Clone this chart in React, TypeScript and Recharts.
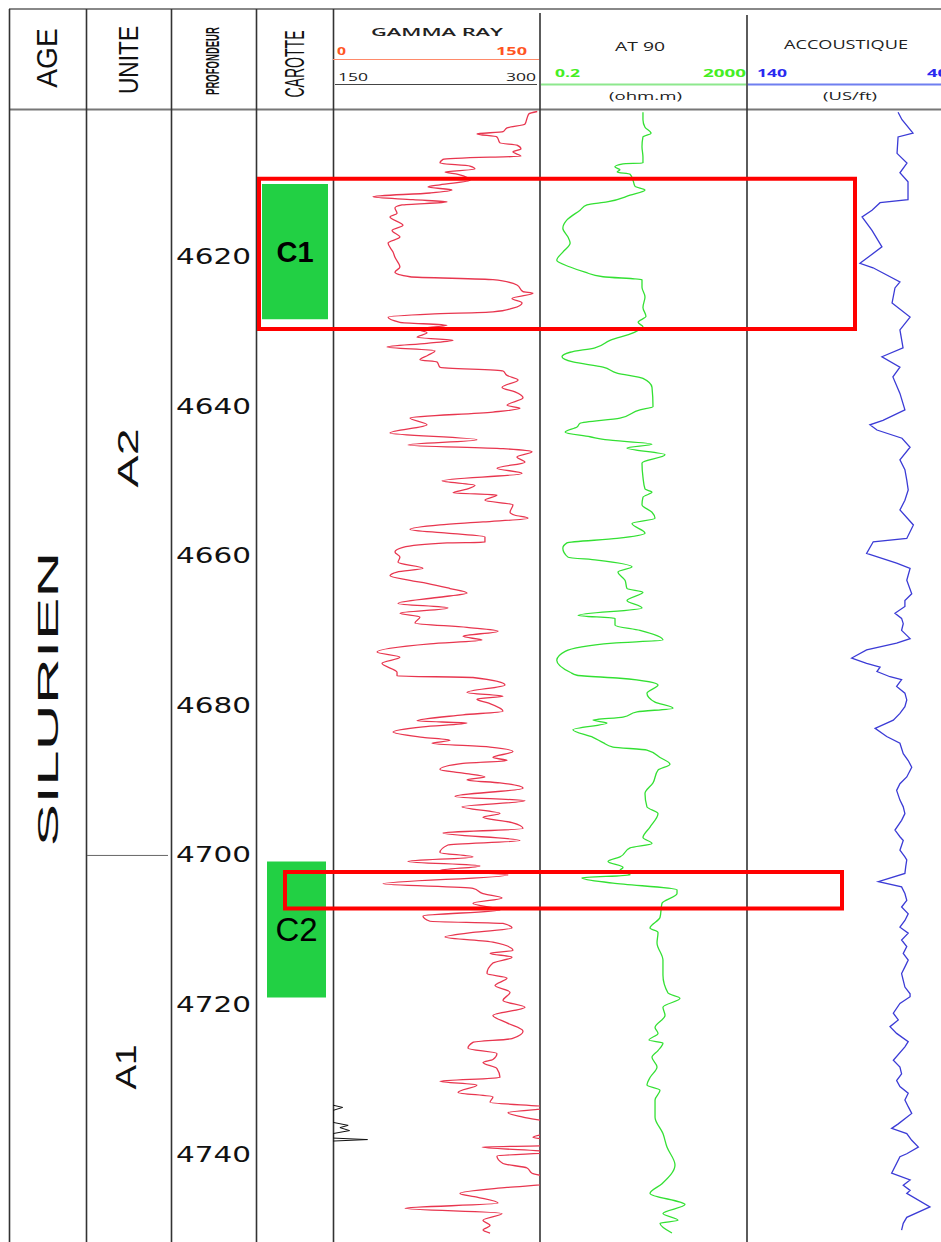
import React from 'react';
import { LineChart, Line, XAxis, YAxis, ReferenceArea, ReferenceLine } from 'recharts';

// axe des profondeurs (m)
const DEPTH_DOMAIN: [number, number] = [4600.3, 4751.7];
const DEPTH_TICKS = [4620, 4640, 4660, 4680, 4700, 4720, 4740];

// Gamma ray, echelle 0 - 150
const grDepth = [
  4600.5, 4600.8, 4601.4, 4602.2, 4602.7, 4603.2, 4603.5, 4603.9, 4604.7, 4605.0, 4605.5, 4605.9, 4606.5, 4606.6,
  4606.9, 4607.4, 4607.8, 4608.2, 4608.6, 4608.9, 4609.7, 4610.3, 4610.6, 4611.0, 4611.4, 4611.9, 4612.3, 4612.6,
  4613.0, 4613.4, 4614.1, 4614.6, 4615.7, 4616.4, 4617.3, 4618.1, 4619.3, 4620.0, 4621.3, 4622.0, 4622.6, 4623.0,
  4623.7, 4624.6, 4624.8, 4625.5, 4626.1, 4626.8, 4627.3, 4627.6, 4628.0, 4628.7, 4629.1, 4629.6, 4630.1, 4630.7,
  4631.1, 4631.5, 4632.0, 4632.5, 4633.1, 4633.7, 4634.0, 4634.7, 4635.2, 4635.8, 4636.4, 4637.4, 4638.0, 4638.8,
  4639.8, 4640.2, 4640.7, 4641.5, 4642.4, 4643.5, 4644.4, 4645.1, 4645.6, 4646.0, 4646.7, 4647.4, 4648.2, 4648.9,
  4649.9, 4650.5, 4651.0, 4651.5, 4651.8, 4652.5, 4653.1, 4654.1, 4654.5, 4654.9, 4655.4, 4655.8, 4656.4, 4656.9,
  4657.4, 4658.1, 4658.2, 4658.8, 4659.4, 4660.1, 4660.8, 4661.6, 4662.1, 4662.6, 4663.2, 4663.6, 4664.3, 4664.9,
  4665.5, 4666.3, 4666.9, 4667.6, 4668.1, 4668.9, 4669.5, 4670.0, 4670.7, 4671.2, 4671.7, 4672.8, 4673.5, 4674.3,
  4675.5, 4676.0, 4676.2, 4677.2, 4678.2, 4678.7, 4679.1, 4679.6, 4680.7, 4681.2, 4682.0, 4682.3, 4682.8, 4683.5,
  4684.2, 4684.6, 4685.0, 4685.5, 4686.1, 4686.9, 4687.3, 4687.7, 4688.5, 4689.0, 4689.5, 4689.9, 4690.3, 4691.0,
  4692.1, 4692.7, 4693.5, 4694.4, 4694.9, 4695.6, 4696.4, 4697.0, 4698.0, 4698.6, 4699.6, 4700.2, 4700.8, 4701.4,
  4702.0, 4702.6, 4703.8, 4704.4, 4705.1, 4705.7, 4706.4, 4707.3, 4708.1, 4708.8, 4709.1, 4709.7, 4710.3, 4710.9,
  4711.6, 4712.7, 4713.1, 4713.6, 4714.4, 4715.8, 4716.4, 4717.4, 4718.3, 4719.4, 4720.3, 4721.4, 4722.4, 4723.5,
  4724.5, 4725.0, 4725.8, 4726.5, 4727.3, 4727.7, 4728.5, 4729.7, 4730.2, 4730.7, 4731.7, 4732.3, 4733.0, 4733.7,
  4734.4, 4735.0, 4735.8, 4736.1, 4736.9, 4737.3, 4737.7, 4738.1, 4738.8, 4739.0, 4739.7, 4740.2, 4741.2, 4741.8,
  4742.5, 4743.2, 4743.9, 4744.4, 4745.2, 4745.7, 4746.5, 4747.2, 4747.9, 4748.8, 4749.5, 4750.1, 4750.5,
];
const grValue = [
  148, 142, 140.6, 139.1, 126.1, 123.2, 104.3, 118.8, 121.0, 133.3, 136.2, 130.4, 136.2, 113.8,
  79.7, 77.5, 99.3, 102.9, 81.2, 90.6, 99.3, 77.5, 68.8, 86.2, 70.3, 29.0, 58.0, 82.6,
  50.0, 44.9, 46.4, 41.3, 50.7, 42.8, 48.5, 39.9, 43.5, 44.9, 48.5, 44.9, 55.8, 115.9,
  133.3, 137.7, 144.9, 129.7, 137.0, 130.4, 115.9, 70.3, 39.9, 48.5, 82.6, 60.9, 68.1, 60.9,
  87.0, 68.1, 39.1, 73.9, 68.8, 63.0, 75.4, 77.5, 123.2, 126.1, 134.1, 122.5, 131.9, 137.7,
  126.1, 135.5, 115.9, 55.8, 68.1, 41.3, 104.3, 54.3, 123.2, 144.2, 133.3, 139.1, 118.8, 137.0,
  79.0, 102.9, 97.1, 87.0, 118.8, 110.1, 130.4, 128.3, 131.9, 141.3, 108.7, 77.5, 55.8, 82.6,
  110.1, 110.1, 82.6, 50.7, 44.9, 48.5, 47.1, 65.2, 46.4, 41.3, 55.8, 68.1, 84.8, 97.1,
  75.4, 47.1, 83.3, 48.5, 63.0, 59.4, 97.1, 119.6, 94.2, 108.0, 70.3, 31.9, 48.5, 35.5,
  46.4, 46.4, 101.4, 124.6, 97.1, 123.2, 104.3, 112.3, 123.2, 94.2, 60.9, 97.1, 65.2, 43.5,
  65.2, 84.8, 71.7, 113.8, 130.4, 115.9, 126.1, 94.2, 77.5, 94.2, 110.1, 97.1, 121.0, 137.7,
  88.4, 139.1, 93.5, 121.0, 108.7, 129.7, 137.7, 79.7, 135.5, 83.3, 77.5, 101.4, 54.3, 106.5,
  77.5, 126.8, 36.2, 101.4, 108.7, 122.5, 101.4, 121.0, 65.2, 70.3, 123.2, 129.7, 101.4, 81.2,
  115.9, 130.4, 113.8, 129.7, 115.9, 111.6, 126.1, 117.4, 128.3, 123.2, 139.1, 115.9, 126.1, 137.7,
  129.7, 101.4, 97.8, 118.8, 115.9, 108.7, 118.8, 121.0, 77.5, 104.3, 90.6, 115.9, 113.8, 158,
  126.8, 137.7, 160, 161, 162, 152, 144.9, 158, 156, 108.0, 160, 118.8, 123.2, 140.6,
  144.2, 158, 157, 126.1, 92.0, 104.3, 119.6, 52.2, 122.5, 108.7, 113.8, 108.7, 113.8,
];

// partie du GR qui depasse 150, sur l'echelle 150 - 300
const grWrapDepth = [4733.4, 4733.7, 4734.1, 4735.7, 4736.1, 4736.4, 4736.8, 4737.2, 4737.8, 4738.0, 4738.2];
const grWrapValue = [150, 157, 150, 150, 161, 155, 162, 150, 150, 175, 150];

// AT90 (ohm.m), echelle log 0.2 - 2000
const atDepth = [
  4600.6, 4601.6, 4602.6, 4603.4, 4603.9, 4605.2, 4606.6, 4607.4, 4607.5, 4607.9, 4608.3, 4608.6, 4608.9, 4609.7,
  4610.5, 4611.0, 4611.7, 4612.6, 4613.0, 4613.7, 4615.0, 4616.1, 4617.3, 4618.1, 4619.3, 4620.4, 4621.3, 4622.0,
  4622.6, 4623.0, 4624.0, 4625.3, 4626.7, 4627.9, 4628.7, 4629.3, 4630.1, 4631.1, 4632.1, 4632.7, 4633.3, 4634.0,
  4634.7, 4635.5, 4636.2, 4637.4, 4640.0, 4640.4, 4641.5, 4642.2, 4642.7, 4643.4, 4644.0, 4644.4, 4645.0, 4645.5,
  4646.4, 4647.5, 4649.4, 4651.0, 4651.4, 4652.1, 4653.1, 4654.1, 4654.9, 4655.6, 4656.9, 4657.6, 4658.2, 4658.9,
  4660.1, 4660.5, 4661.4, 4662.1, 4663.2, 4664.3, 4664.8, 4665.9, 4666.9, 4667.9, 4668.3, 4669.2, 4669.9, 4671.2,
  4671.6, 4672.7, 4673.9, 4675.5, 4675.9, 4676.3, 4677.2, 4678.3, 4679.5, 4680.3, 4680.8, 4681.5, 4681.9, 4682.3,
  4683.2, 4684.2, 4684.9, 4685.5, 4685.9, 4686.9, 4687.8, 4688.6, 4690.3, 4691.7, 4693.5, 4694.4, 4696.2, 4697.6,
  4698.4, 4699.0, 4700.2, 4700.8, 4701.6, 4702.0, 4702.6, 4703.0, 4703.7, 4704.6, 4705.1, 4706.4, 4708.3, 4709.7,
  4710.3, 4711.7, 4714.0, 4716.0, 4718.4, 4719.1, 4720.3, 4721.4, 4723.0, 4723.8, 4724.7, 4725.1, 4726.1, 4727.0,
  4728.3, 4729.7, 4730.7, 4731.4, 4732.7, 4735.0, 4737.2, 4739.0, 4741.4, 4743.9, 4745.2, 4746.7, 4747.9, 4748.8,
  4749.2, 4750.5,
];
const atValue = [
  19.1, 19.1, 20.9, 27.3, 19.1, 18.3, 19.1, 19.1, 7.9, 5.5, 6.9, 6.1, 10.8, 12.3,
  13.4, 20.9, 10.8, 3.9, 1.6, 1.18, 0.66, 0.55, 0.69, 0.76, 0.55, 0.42, 0.76, 1.47,
  3.26, 18.3, 18.3, 20.9, 19.1, 21.8, 15.4, 19.1, 12.3, 4.44, 2.28, 0.76, 0.53, 0.86,
  3.26, 6.05, 19.1, 28.5, 29.8, 16.75, 6.9, 1.18, 1.03, 0.61, 1.83, 3.56, 28.5, 9.4,
  50.7, 18.3, 19.1, 20.9, 28.5, 19.1, 18.3, 28.5, 32.6, 11.75, 20.9, 6.05, 0.66, 0.55,
  0.69, 2.5, 11.75, 6.32, 8.63, 9.42, 19.1, 9.42, 18.3, 1.08, 5.54, 5.54, 16.75, 46.3,
  5.07, 0.61, 0.42, 0.76, 1.03, 6.9, 37.2, 22.8, 32.6, 72.3, 14.7, 7.9, 2.09, 3.88,
  0.86, 2.09, 3.26, 5.07, 22.8, 40.6, 63.2, 37.2, 29.8, 20.9, 22.8, 37.2, 26.1, 19.1,
  28.5, 10.8, 6.9, 4.06, 7.9, 6.9, 10.8, 1.28, 5.07, 86.3, 86.3, 44.4, 40.6, 26.1,
  37.2, 35.6, 46.3, 46.3, 57.9, 98.4, 46.3, 50.7, 32.6, 37.2, 24.9, 46.3, 37.2, 28.5,
  35.6, 26.1, 22.8, 40.6, 32.6, 32.6, 46.3, 55.3, 78.9, 44.4, 26.1, 122.8, 46.3, 90.2,
  40.6, 69.0,
];

// Accoustique (us/ft), echelle 140 - 40
const acDepth = [
  4600.6, 4601.6, 4603.4, 4603.9, 4606.1, 4607.4, 4608.7, 4609.9, 4612.3, 4612.7, 4613.7, 4614.6, 4616.4, 4618.6,
  4620.0, 4620.8, 4621.4, 4622.1, 4623.3, 4624.1, 4626.1, 4628.0, 4629.7, 4632.1, 4633.3, 4634.7, 4636.0, 4638.2,
  4640.4, 4641.8, 4642.4, 4643.1, 4644.2, 4645.4, 4647.1, 4648.4,
  4649.8, 4651.1, 4652.5, 4653.8, 4655.8, 4657.6, 4658.05, 4659.6, 4660.9, 4661.6, 4663.2, 4665.0, 4665.9, 4666.7,
  4667.6, 4668.3, 4669.0, 4669.9, 4671.0, 4671.6, 4672.5, 4673.6, 4674.3, 4674.8, 4675.4, 4676.1, 4676.5, 4677.4,
  4678.3, 4679.2, 4680.1, 4681.0, 4681.9, 4683.0, 4684.1, 4685.0, 4686.4, 4687.3, 4688.2, 4689.5, 4690.4, 4691.3,
  4692.6, 4693.5, 4694.4, 4695.3, 4696.6, 4697.5, 4698.0, 4699.3, 4700.2,
  4700.6, 4701.5, 4702.4, 4703.5, 4704.2, 4705.1, 4706.0, 4706.9, 4707.8, 4708.7, 4709.6, 4710.4, 4711.3, 4712.2,
  4713.1, 4714.0, 4714.9, 4715.8, 4716.7, 4717.6, 4718.5, 4718.9, 4719.8, 4721.1, 4722.0, 4722.9, 4723.8, 4724.9,
  4725.6, 4727.4, 4728.3, 4729.2, 4730.1, 4730.9, 4731.8, 4732.7, 4733.6, 4734.5, 4735.9, 4736.5, 4737.2, 4738.1,
  4739.0, 4739.9, 4740.3, 4742.5, 4743.4, 4744.1, 4744.8, 4745.2, 4747.0, 4748.4, 4749.2, 4750.1,
];
const acValue = [
  67.5, 65.6, 60.3, 67.5, 68.0, 63.2, 66.6, 62.7, 62.7, 76.2, 80.1, 84.9, 80.1, 75.3,
  82.0, 85.9, 79.6, 74.8, 66.6, 69.0, 70.4, 61.7, 66.6, 65.1, 75.3, 66.6, 70.0, 66.6,
  64.2, 74.8, 81.1, 77.7, 65.6, 61.7, 66.6, 64.2,
  63.3, 62.6, 64.2, 66.6, 60.1, 63.3, 79.5, 82.7, 68.2, 61.7, 63.3, 60.9, 64.2, 64.2,
  69.0, 65.8, 65.0, 65.8, 61.7, 68.2, 82.7, 89.9, 82.7, 76.2, 77.7, 71.4, 65.8, 68.2,
  64.2, 63.3, 64.2, 66.6, 69.8, 78.6, 73.0, 66.6, 65.0, 62.6, 60.9, 63.3, 66.6, 68.2,
  66.6, 65.0, 64.2, 65.8, 69.0, 66.6, 65.0, 66.6, 64.2,
  63.3, 63.8, 64.2, 77.0, 65.8, 64.2, 63.3, 65.8, 62.6, 64.2, 66.6, 62.6, 65.8, 63.3,
  65.0, 62.6, 64.2, 65.8, 65.0, 64.2, 61.7, 61.7, 66.6, 69.8, 67.4, 71.4, 68.2, 62.6,
  64.2, 69.8, 66.6, 65.8, 68.2, 66.6, 62.6, 64.2, 62.6, 60.9, 67.4, 70.6, 63.3, 60.9,
  57.7, 63.3, 66.6, 70.6, 61.7, 65.0, 61.7, 63.3, 52.1, 63.3, 65.0, 65.8,
];

// carottes
const coreNames = ['C1', 'C2'];
const coreTop = [4610.2, 4700.8];
const coreBase = [4628.3, 4719.0];

// limite entre les unites A2 / A1
const unitBoundary = 4700;

// intervalles encadres en rouge
const zoneTop = [4609.5, 4702.2];
const zoneBase = [4629.6, 4707.1];

type Row = { depth: number; value?: number };
const toRows = (depth: number[], values: number[]): Row[] => depth.map((d, i) => ({ depth: d, value: values[i] }));

const grRows = toRows(grDepth, grValue);
const grWrapRows = toRows(grWrapDepth, grWrapValue);
const atRows = toRows(atDepth, atValue);
const acRows = toRows(acDepth, acValue);
const frameRows = DEPTH_DOMAIN.map((d) => ({ depth: d, x: 0.5 }));

const PLOT_TOP = 110;
const PLOT_H = 1132;
const NO_MARGIN = { top: 0, right: 0, bottom: 0, left: 0 };
const FONT = "'Liberation Sans', Arial, sans-serif";

type TrackProps = {
  left: number;
  width: number;
  rows: Row[];
  color: string;
  domain: [number, number];
  log?: boolean;
  reversed?: boolean;
  smooth?: boolean;
  children?: React.ReactNode;
};

const Track = ({ left, width, rows, color, domain, log, reversed, smooth, children }: TrackProps) => (
  <div style={{ position: 'absolute', left, top: PLOT_TOP }}>
    <LineChart layout="vertical" width={width} height={PLOT_H} data={rows} margin={NO_MARGIN}>
      <XAxis type="number" hide domain={domain} scale={log ? 'log' : 'auto'} reversed={reversed} allowDataOverflow />
      <YAxis type="number" dataKey="depth" hide domain={DEPTH_DOMAIN} allowDataOverflow />
      <Line
        type={smooth ? 'monotone' : 'linear'}
        dataKey="value"
        stroke={color}
        strokeWidth={1.3}
        dot={false}
        isAnimationActive={false}
      />
      {children}
    </LineChart>
  </div>
);

// graphique vide qui partage l'axe des profondeurs (zones, limites)
const DepthFrame = ({ left, width, pad = 0, children }: any) => (
  <div style={{ position: 'absolute', left, top: PLOT_TOP }}>
    <LineChart
      layout="vertical"
      width={width}
      height={PLOT_H}
      data={frameRows}
      margin={{ top: 0, bottom: 0, left: pad, right: pad }}
    >
      <XAxis type="number" dataKey="x" hide domain={[0, 1]} allowDataOverflow />
      <YAxis type="number" dataKey="depth" hide domain={DEPTH_DOMAIN} allowDataOverflow />
      <Line dataKey="x" stroke="none" dot={false} isAnimationActive={false} />
      {children}
    </LineChart>
  </div>
);

const DepthTick = (props: any) => {
  const { x, y, payload } = props;
  return (
    <text
      x={x - 10}
      y={y}
      dy={7}
      textAnchor="end"
      fontSize={21}
      fontFamily="'DejaVu Sans', sans-serif"
      textLength={75}
      lengthAdjust="spacingAndGlyphs"
      fill="#111"
    >
      {payload.value}
    </text>
  );
};

// texte vertical, sx = compression horizontale du texte
const VText = ({ x, y, size, sx = 1, len, weight, children }: any) => (
  <text
    transform={`translate(${x},${y}) rotate(-90) scale(${sx},1)`}
    textAnchor="middle"
    dy="0.36em"
    fontSize={size}
    fontWeight={weight || 400}
    textLength={len}
    lengthAdjust={len ? 'spacingAndGlyphs' : undefined}
    fill="#111"
  >
    {children}
  </text>
);

const HText = ({ x, y, size, len, anchor, weight, fill, children }: any) => (
  <text
    x={x}
    y={y}
    textAnchor={anchor || 'middle'}
    fontSize={size}
    fontWeight={weight || 400}
    textLength={len}
    lengthAdjust="spacingAndGlyphs"
    fill={fill || '#222'}
    fontFamily="'Open Sans', sans-serif"
  >
    {children}
  </text>
);

const coreBoxes = [
  { left: 262, width: 66, fontSize: 29, fontWeight: 700 },
  { left: 267, width: 59, fontSize: 33, fontWeight: 400 },
];

const zoneBoxes = [
  { left: 257, width: 600 },
  { left: 283, width: 561 },
];

const App: React.FC = () => {
  return (
    <div
      style={{
        position: 'absolute',
        left: 0,
        top: 0,
        width: 941,
        height: 1242,
        overflow: 'hidden',
        background: '#fff',
        fontFamily: FONT,
      }}
    >
      <svg width={941} height={1242} style={{ position: 'absolute', left: 0, top: 0 }} fontFamily={FONT}>
        {/* cadre */}
        <line x1={9} y1={9} x2={941} y2={9} stroke="#888" strokeWidth={2} />
        <line x1={9} y1={109.5} x2={941} y2={109.5} stroke="#777" strokeWidth={2} />
        {[9.5, 86.5, 171.5, 256.5, 333.5].map((x) => (
          <line key={x} x1={x} y1={9} x2={x} y2={1242} stroke="#333" strokeWidth={1.6} />
        ))}
        <line x1={540} y1={13} x2={540} y2={1242} stroke="#333" strokeWidth={1.6} />
        <line x1={747} y1={15} x2={747} y2={1242} stroke="#333" strokeWidth={1.6} />

        {/* entetes de colonnes */}
        <VText x={47} y={58} size={29} sx={0.97}>AGE</VText>
        <VText x={128} y={60} size={28} sx={0.81}>UNITE</VText>
        <VText x={213} y={61} size={18} sx={0.53} weight={700}>PROFONDEUR</VText>
        <VText x={294} y={64} size={27} sx={0.52}>CAROTTE</VText>

        {/* entete gamma ray */}
        <HText x={437} y={36} size={11} len={132} weight={600}>GAMMA RAY</HText>
        <HText x={337} y={55} size={11} len={9} anchor="start" weight={700} fill="#ff5522">0</HText>
        <HText x={527} y={55} size={11} len={31} anchor="end" weight={700} fill="#ff5522">150</HText>
        <line x1={333} y1={59.5} x2={539} y2={59.5} stroke="#ff8a6a" strokeWidth={1.2} />
        <HText x={338} y={81} size={11} len={30} anchor="start">150</HText>
        <HText x={536} y={81} size={11} len={30} anchor="end">300</HText>
        <line x1={335} y1={84.5} x2={537} y2={84.5} stroke="#444" strokeWidth={1} />

        {/* entete AT 90 */}
        <HText x={640} y={51} size={12} len={50}>AT  90</HText>
        <HText x={555} y={77} size={11} len={25} anchor="start" weight={700} fill="#44ee22">0.2</HText>
        <HText x={746} y={77} size={11} len={43} anchor="end" weight={700} fill="#44ee22">2000</HText>
        <line x1={541} y1={84.5} x2={746} y2={84.5} stroke="#8de88d" strokeWidth={2} />
        <HText x={645.5} y={100} size={11.5} len={73}>(ohm.m)</HText>

        {/* entete accoustique */}
        <HText x={846} y={49} size={12} len={124}>ACCOUSTIQUE</HText>
        <HText x={757} y={77} size={11} len={30} anchor="start" weight={700} fill="#2a2af0">140</HText>
        <HText x={927} y={77} size={11} len={21} anchor="start" weight={700} fill="#2a2af0">40</HText>
        <line x1={748} y1={84.5} x2={941} y2={84.5} stroke="#6f7ff0" strokeWidth={2} />
        <HText x={850} y={100} size={11.5} len={54}>(US/ft)</HText>

        {/* textes du corps */}
        <VText x={48} y={699} size={29} len={295}>SILURIEN</VText>
        <VText x={128} y={458} size={29} len={59}>A2</VText>
        <VText x={126} y={1067} size={29} len={45}>A1</VText>
      </svg>

      {/* limite d'unite */}
      <DepthFrame left={87} width={81}>
        <ReferenceLine y={unitBoundary} stroke="#666" strokeWidth={1} />
      </DepthFrame>

      {/* echelle des profondeurs */}
      <div style={{ position: 'absolute', left: 172, top: PLOT_TOP }}>
        <LineChart layout="vertical" width={90} height={PLOT_H} data={frameRows} margin={NO_MARGIN}>
          <XAxis type="number" dataKey="x" hide domain={[0, 1]} allowDataOverflow />
          <YAxis
            type="number"
            dataKey="depth"
            domain={DEPTH_DOMAIN}
            allowDataOverflow
            ticks={DEPTH_TICKS}
            interval={0}
            width={89}
            axisLine={false}
            tickLine={false}
            tickSize={0}
            tickMargin={0}
            tick={<DepthTick />}
          />
          <Line dataKey="x" stroke="none" dot={false} isAnimationActive={false} />
        </LineChart>
      </div>

      {/* carottes */}
      {coreNames.map((name, i) => (
        <DepthFrame key={name} left={coreBoxes[i].left} width={coreBoxes[i].width}>
          <ReferenceArea
            y1={coreTop[i]}
            y2={coreBase[i]}
            fill="#22d044"
            fillOpacity={1}
            stroke="none"
            label={{
              value: name,
              position: 'center',
              fill: '#000',
              fontSize: coreBoxes[i].fontSize,
              fontWeight: coreBoxes[i].fontWeight,
            }}
          />
        </DepthFrame>
      ))}

      {/* diagraphies */}
      <Track left={333} width={207} rows={grRows} color="#e8364f" domain={[0, 150]} smooth>
        <XAxis xAxisId="wrap" type="number" hide domain={[150, 300]} allowDataOverflow />
        <Line
          xAxisId="wrap"
          data={grWrapRows}
          dataKey="value"
          stroke="#111"
          strokeWidth={1}
          dot={false}
          isAnimationActive={false}
        />
      </Track>
      <Track left={540} width={208} rows={atRows} color="#33e033" domain={[0.2, 2000]} log smooth />
      <Track left={748} width={207} rows={acRows} color="#3b3bd6" domain={[40, 140]} reversed />

      {/* cadres rouges */}
      {zoneTop.map((top, i) => (
        <DepthFrame key={i} left={zoneBoxes[i].left} width={zoneBoxes[i].width} pad={2}>
          <ReferenceArea y1={top} y2={zoneBase[i]} fill="none" stroke="#ff0000" strokeWidth={4} />
        </DepthFrame>
      ))}
    </div>
  );
};

export default App;
